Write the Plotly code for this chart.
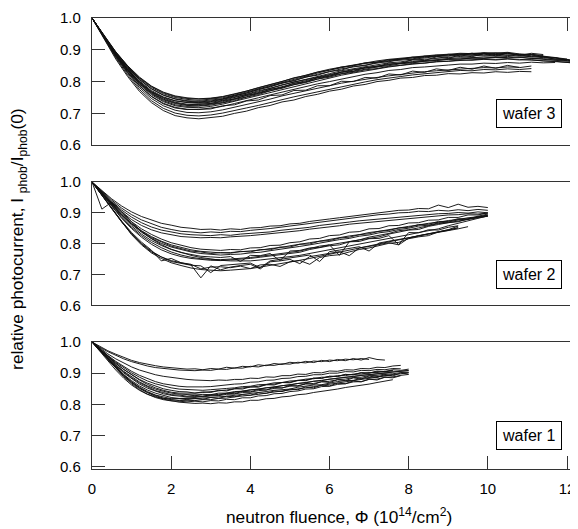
import plotly.graph_objects as go

# ---------------- x grids (fluence, 1e14 /cm^2) ----------------
X_W3 = [0.0, 0.3, 0.6, 0.9, 1.2, 1.5, 1.8, 2.1, 2.4, 2.7, 3.0, 3.3, 3.6, 3.9, 4.2, 4.5,
        4.8, 5.1, 5.4, 5.7, 6.0, 6.3, 6.6, 6.9, 7.2, 7.5, 7.8, 8.1, 8.4, 8.7, 9.0, 9.3,
        9.6, 9.9, 10.2, 10.5, 10.8, 11.1, 11.4, 11.7, 12.0, 12.3, 12.5]
X_W2 = [0.0, 0.25, 0.5, 0.75, 1.0, 1.25, 1.5, 1.75, 2.0, 2.25, 2.5, 2.75, 3.0, 3.25, 3.5,
        3.75, 4.0, 4.25, 4.5, 4.75, 5.0, 5.25, 5.5, 5.75, 6.0, 6.25, 6.5, 6.75, 7.0, 7.25,
        7.5, 7.75, 8.0, 8.25, 8.5, 8.75, 9.0, 9.25, 9.5, 9.75, 10.0]
X_W1 = [0.0, 0.2, 0.4, 0.6, 0.8, 1.0, 1.2, 1.4, 1.6, 1.8, 2.0, 2.2, 2.4, 2.6, 2.8, 3.0,
        3.2, 3.4, 3.6, 3.8, 4.0, 4.2, 4.4, 4.6, 4.8, 5.0, 5.2, 5.4, 5.6, 5.8, 6.0, 6.2,
        6.4, 6.6, 6.8, 7.0, 7.2, 7.4, 7.6, 7.8, 8.0]

# ---------------- wafer 3 (top panel) ----------------
W3_C01 = [1.000, 0.934, 0.871, 0.816, 0.769, 0.734, 0.709, 0.693, 0.686, 0.683, 0.687, 0.691, 0.700, 0.707, 0.718, 0.725,
          0.736, 0.742, 0.753, 0.760, 0.770, 0.776, 0.786, 0.791, 0.800, 0.804, 0.811, 0.813, 0.819, 0.820, 0.825, 0.824,
          0.828, 0.827, 0.831, 0.829, 0.832, 0.831]
W3_C02 = [1.000, 0.936, 0.875, 0.821, 0.775, 0.740, 0.716, 0.701, 0.694, 0.692, 0.695, 0.701, 0.708, 0.717, 0.725, 0.735,
          0.743, 0.752, 0.760, 0.769, 0.776, 0.785, 0.792, 0.799, 0.806, 0.810, 0.816, 0.821, 0.824, 0.829, 0.831, 0.835,
          0.834, 0.838, 0.837, 0.840, 0.838, 0.841]
W3_C03 = [1.000, 0.938, 0.878, 0.826, 0.781, 0.747, 0.724, 0.710, 0.703, 0.702, 0.705, 0.711, 0.719, 0.727, 0.737, 0.745,
          0.755, 0.763, 0.771, 0.780, 0.787, 0.795, 0.801, 0.808, 0.813, 0.818, 0.823, 0.827, 0.831, 0.834, 0.837, 0.840,
          0.841, 0.844, 0.843, 0.846, 0.845]
W3_C04 = [1.000, 0.939, 0.881, 0.830, 0.787, 0.754, 0.732, 0.719, 0.713, 0.712, 0.716, 0.722, 0.731, 0.739, 0.749, 0.758,
          0.767, 0.775, 0.784, 0.793, 0.800, 0.808, 0.815, 0.823, 0.828, 0.835, 0.838, 0.844, 0.846, 0.850, 0.852, 0.855,
          0.855, 0.858, 0.857, 0.860, 0.858, 0.861, 0.859, 0.860]
W3_C05 = [1.000, 0.940, 0.883, 0.833, 0.791, 0.759, 0.737, 0.724, 0.719, 0.718, 0.722, 0.729, 0.738, 0.747, 0.757, 0.766,
          0.776, 0.785, 0.794, 0.803, 0.812, 0.820, 0.827, 0.834, 0.840, 0.846, 0.851, 0.855, 0.858, 0.862, 0.864, 0.867,
          0.868, 0.871, 0.870, 0.872, 0.870, 0.868, 0.866, 0.863, 0.861, 0.858, 0.855]
W3_C06 = [1.000, 0.941, 0.885, 0.836, 0.795, 0.764, 0.743, 0.731, 0.725, 0.724, 0.728, 0.734, 0.744, 0.752, 0.763, 0.771,
          0.782, 0.790, 0.800, 0.808, 0.818, 0.825, 0.833, 0.839, 0.846, 0.850, 0.856, 0.859, 0.864, 0.866, 0.870, 0.871,
          0.874, 0.874, 0.877, 0.875, 0.877, 0.873, 0.872, 0.868, 0.866]
W3_C07 = [1.000, 0.942, 0.887, 0.839, 0.799, 0.768, 0.748, 0.735, 0.729, 0.728, 0.731, 0.737, 0.746, 0.755, 0.765, 0.775,
          0.784, 0.794, 0.803, 0.812, 0.821, 0.829, 0.836, 0.843, 0.849, 0.854, 0.859, 0.863, 0.866, 0.870, 0.872, 0.875,
          0.875, 0.878, 0.877, 0.879, 0.876, 0.875, 0.871, 0.869, 0.864, 0.861, 0.857]
W3_C08 = [1.000, 0.942, 0.888, 0.841, 0.802, 0.772, 0.752, 0.740, 0.734, 0.732, 0.735, 0.741, 0.749, 0.759, 0.768, 0.779,
          0.788, 0.799, 0.807, 0.817, 0.825, 0.834, 0.840, 0.848, 0.853, 0.859, 0.862, 0.868, 0.870, 0.874, 0.876, 0.879,
          0.880, 0.883, 0.881, 0.884, 0.880, 0.879, 0.875, 0.872, 0.868, 0.862]
W3_C09 = [1.000, 0.943, 0.890, 0.844, 0.806, 0.777, 0.757, 0.745, 0.738, 0.736, 0.739, 0.745, 0.754, 0.764, 0.774, 0.785,
          0.795, 0.805, 0.814, 0.823, 0.831, 0.840, 0.846, 0.853, 0.858, 0.864, 0.867, 0.872, 0.874, 0.879, 0.880, 0.884,
          0.884, 0.888, 0.885, 0.889, 0.884, 0.886, 0.882]
W3_C10 = [1.000, 0.944, 0.892, 0.847, 0.810, 0.782, 0.762, 0.750, 0.744, 0.741, 0.744, 0.749, 0.757, 0.767, 0.777, 0.788,
          0.798, 0.809, 0.818, 0.827, 0.836, 0.844, 0.851, 0.857, 0.862, 0.867, 0.872, 0.875, 0.879, 0.881, 0.885, 0.886,
          0.889, 0.888, 0.890, 0.887, 0.886, 0.881, 0.879, 0.874, 0.869, 0.864, 0.858]
W3_C11 = [1.000, 0.945, 0.894, 0.850, 0.814, 0.786, 0.767, 0.755, 0.749, 0.746, 0.748, 0.753, 0.761, 0.770, 0.781, 0.791,
          0.802, 0.811, 0.821, 0.830, 0.839, 0.846, 0.853, 0.860, 0.865, 0.870, 0.874, 0.878, 0.881, 0.884, 0.886, 0.889,
          0.888, 0.891, 0.890, 0.892, 0.887, 0.885, 0.880, 0.876, 0.871]
W3_C12 = [1.000, 0.941, 0.886, 0.838, 0.799, 0.769, 0.750, 0.739, 0.735, 0.734, 0.737, 0.744, 0.752, 0.760, 0.771, 0.779,
          0.790, 0.798, 0.808, 0.815, 0.824, 0.831, 0.838, 0.843, 0.849, 0.853, 0.858, 0.861, 0.865, 0.866, 0.870, 0.871,
          0.874, 0.873, 0.876, 0.875]
W3_C13 = [1.000, 0.940, 0.884, 0.835, 0.793, 0.762, 0.740, 0.727, 0.722, 0.723, 0.726, 0.733, 0.740, 0.751, 0.759, 0.771,
          0.779, 0.790, 0.797, 0.808, 0.814, 0.824, 0.829, 0.837, 0.841, 0.848, 0.851, 0.857, 0.858, 0.863, 0.864, 0.868,
          0.867, 0.870, 0.868, 0.871, 0.868, 0.869, 0.865, 0.864, 0.860, 0.858, 0.854]
W3_C14 = [1.000, 0.941, 0.886, 0.837, 0.797, 0.766, 0.745, 0.733, 0.727, 0.729, 0.731, 0.740, 0.745, 0.757, 0.762, 0.776,
          0.781, 0.795, 0.799, 0.813, 0.816, 0.830, 0.832, 0.845, 0.846, 0.858, 0.857, 0.869, 0.866, 0.878, 0.873, 0.884,
          0.878, 0.889, 0.881, 0.891, 0.882, 0.889, 0.885]
W3_C15 = [1.000, 0.943, 0.890, 0.845, 0.807, 0.778, 0.758, 0.746, 0.740, 0.738, 0.742, 0.746, 0.756, 0.763, 0.776, 0.783,
          0.796, 0.802, 0.815, 0.820, 0.832, 0.836, 0.848, 0.850, 0.861, 0.862, 0.872, 0.871, 0.880, 0.878, 0.886, 0.883,
          0.889, 0.884, 0.889, 0.882, 0.885, 0.877, 0.879, 0.870, 0.870, 0.861, 0.859]
W3_C16 = [1.000, 0.938, 0.880, 0.829, 0.786, 0.753, 0.730, 0.717, 0.712, 0.713, 0.714, 0.724, 0.727, 0.739, 0.742, 0.756,
          0.758, 0.772, 0.773, 0.787, 0.787, 0.801, 0.800, 0.813, 0.811, 0.824, 0.821, 0.833, 0.829, 0.840, 0.835, 0.845,
          0.839, 0.849, 0.842, 0.851, 0.844, 0.849]
W3_C17 = [1.000, 0.944, 0.893, 0.849, 0.812, 0.785, 0.765, 0.753, 0.747, 0.745, 0.747, 0.752, 0.760, 0.770, 0.779, 0.791,
          0.800, 0.812, 0.819, 0.830, 0.836, 0.846, 0.850, 0.859, 0.861, 0.869, 0.870, 0.877, 0.876, 0.883, 0.881, 0.887,
          0.884, 0.890, 0.885, 0.889, 0.883, 0.884, 0.876, 0.876, 0.867, 0.864, 0.856]

# ---------------- wafer 2 (middle panel) ----------------
W2_C01 = [1.000, 0.972, 0.945, 0.922, 0.903, 0.888, 0.876, 0.866, 0.860, 0.853, 0.850, 0.846, 0.847, 0.844, 0.848, 0.846,
          0.851, 0.852, 0.857, 0.858, 0.864, 0.866, 0.872, 0.875, 0.880, 0.884, 0.888, 0.893, 0.896, 0.901, 0.903, 0.908,
          0.909, 0.914, 0.913, 0.925, 0.917, 0.928, 0.918, 0.921, 0.917]
W2_C02 = [1.000, 0.970, 0.941, 0.915, 0.894, 0.877, 0.864, 0.853, 0.846, 0.840, 0.838, 0.835, 0.838, 0.836, 0.840, 0.839,
          0.843, 0.845, 0.849, 0.853, 0.857, 0.861, 0.866, 0.870, 0.874, 0.879, 0.882, 0.887, 0.889, 0.894, 0.896, 0.900,
          0.901, 0.905, 0.904, 0.908, 0.906, 0.910, 0.907, 0.911, 0.908]
W2_C03 = [1.000, 0.968, 0.937, 0.909, 0.886, 0.868, 0.854, 0.844, 0.837, 0.832, 0.829, 0.827, 0.826, 0.829, 0.827, 0.831,
          0.833, 0.836, 0.838, 0.843, 0.846, 0.851, 0.853, 0.859, 0.862, 0.866, 0.870, 0.874, 0.877, 0.881, 0.884, 0.887,
          0.889, 0.893, 0.894, 0.897, 0.898, 0.901, 0.899, 0.903, 0.900]
W2_C04 = [1.000, 0.966, 0.933, 0.903, 0.878, 0.859, 0.845, 0.835, 0.828, 0.823, 0.821, 0.819, 0.820, 0.819, 0.822, 0.823,
          0.826, 0.829, 0.832, 0.835, 0.839, 0.842, 0.847, 0.850, 0.855, 0.858, 0.863, 0.866, 0.870, 0.873, 0.877, 0.879,
          0.883, 0.885, 0.888, 0.890, 0.893, 0.894, 0.897, 0.896, 0.899]
W2_C05 = [1.000, 0.966, 0.932, 0.899, 0.871, 0.848, 0.830, 0.815, 0.803, 0.794, 0.787, 0.782, 0.780, 0.778, 0.781, 0.780,
          0.786, 0.787, 0.794, 0.795, 0.803, 0.806, 0.815, 0.817, 0.826, 0.828, 0.837, 0.839, 0.848, 0.849, 0.858, 0.859,
          0.867, 0.868, 0.876, 0.877, 0.885, 0.885, 0.893, 0.893, 0.900]
W2_C06 = [1.000, 0.965, 0.929, 0.895, 0.866, 0.842, 0.823, 0.808, 0.796, 0.787, 0.780, 0.775, 0.772, 0.770, 0.771, 0.773,
          0.776, 0.779, 0.784, 0.787, 0.793, 0.797, 0.803, 0.808, 0.814, 0.819, 0.825, 0.829, 0.836, 0.840, 0.846, 0.850,
          0.856, 0.860, 0.866, 0.869, 0.875, 0.878, 0.884, 0.887, 0.893]
W2_C07 = [1.000, 0.964, 0.927, 0.892, 0.862, 0.837, 0.817, 0.801, 0.789, 0.780, 0.773, 0.768, 0.765, 0.763, 0.765, 0.766,
          0.770, 0.772, 0.777, 0.781, 0.786, 0.791, 0.796, 0.802, 0.806, 0.813, 0.817, 0.824, 0.828, 0.835, 0.839, 0.846,
          0.850, 0.857, 0.860, 0.867, 0.870, 0.877, 0.880, 0.886, 0.889]
W2_C08 = [1.000, 0.963, 0.925, 0.889, 0.857, 0.831, 0.810, 0.794, 0.781, 0.771, 0.765, 0.759, 0.757, 0.755, 0.758, 0.742,
          0.762, 0.761, 0.768, 0.745, 0.776, 0.778, 0.786, 0.788, 0.796, 0.762, 0.806, 0.807, 0.816, 0.817, 0.826, 0.797,
          0.836, 0.835, 0.845, 0.844, 0.853, 0.858]
W2_C09 = [1.000, 0.962, 0.922, 0.885, 0.852, 0.826, 0.804, 0.787, 0.773, 0.763, 0.756, 0.751, 0.749, 0.748, 0.750, 0.752,
          0.755, 0.759, 0.763, 0.768, 0.773, 0.776, 0.784, 0.792, 0.796, 0.802, 0.808, 0.812, 0.821, 0.827, 0.833, 0.842,
          0.845, 0.851, 0.857, 0.865, 0.868, 0.873, 0.879, 0.884, 0.889]
W2_C10 = [1.000, 0.958, 0.915, 0.873, 0.836, 0.805, 0.779, 0.744, 0.752, 0.738, 0.733, 0.718, 0.724, 0.725, 0.722, 0.727,
          0.719, 0.731, 0.733, 0.726, 0.741, 0.745, 0.733, 0.755, 0.761, 0.764, 0.773, 0.781, 0.786, 0.793, 0.801, 0.804,
          0.816, 0.822, 0.826, 0.838, 0.843, 0.852]
W2_C11 = [1.000, 0.957, 0.912, 0.868, 0.829, 0.796, 0.770, 0.752, 0.738, 0.729, 0.721, 0.716, 0.713, 0.712, 0.714, 0.716,
          0.719, 0.724, 0.729, 0.734, 0.740, 0.746, 0.752, 0.759, 0.766, 0.772, 0.779, 0.786, 0.792, 0.799, 0.806, 0.812,
          0.819, 0.825, 0.832, 0.838, 0.845, 0.851]
W2_C12 = [1.000, 0.955, 0.913, 0.870, 0.831, 0.799, 0.773, 0.757, 0.745, 0.738, 0.731, 0.689, 0.728, 0.715, 0.724, 0.729,
          0.733, 0.718, 0.741, 0.744, 0.749, 0.735, 0.758, 0.763, 0.768, 0.774, 0.761, 0.786, 0.791, 0.797, 0.803, 0.796,
          0.818, 0.826, 0.831, 0.838, 0.845, 0.857]
W2_C13 = [1.000, 0.912, 0.935, 0.905, 0.870, 0.840, 0.816, 0.797, 0.782, 0.771, 0.762, 0.755, 0.750, 0.746, 0.744, 0.743,
          0.744, 0.747, 0.750, 0.753, 0.758, 0.762, 0.768, 0.773, 0.779, 0.786, 0.791, 0.798, 0.803, 0.811, 0.816, 0.823,
          0.829, 0.836, 0.841, 0.848, 0.858, 0.867, 0.874, 0.882, 0.890]
W2_C14 = [1.000, 0.964, 0.928, 0.894, 0.864, 0.840, 0.820, 0.806, 0.792, 0.784, 0.776, 0.773, 0.768, 0.771, 0.769, 0.775,
          0.773, 0.781, 0.780, 0.789, 0.789, 0.798, 0.799, 0.808, 0.810, 0.818, 0.821, 0.829, 0.832, 0.840, 0.843, 0.851,
          0.853, 0.862, 0.863, 0.872, 0.872, 0.881, 0.880, 0.889, 0.896]
W2_C15 = [1.000, 0.957, 0.914, 0.871, 0.833, 0.801, 0.776, 0.757, 0.742, 0.736, 0.730, 0.728, 0.706, 0.729, 0.731, 0.733,
          0.737, 0.722, 0.744, 0.749, 0.753, 0.758, 0.763, 0.742, 0.774, 0.779, 0.785, 0.790, 0.776, 0.802, 0.808, 0.813,
          0.819, 0.825, 0.831, 0.836, 0.842, 0.848, 0.855]
W2_C16 = [1.000, 0.961, 0.921, 0.882, 0.849, 0.821, 0.798, 0.780, 0.767, 0.758, 0.752, 0.748, 0.746, 0.745, 0.747, 0.749,
          0.752, 0.756, 0.760, 0.765, 0.770, 0.772, 0.781, 0.787, 0.793, 0.796, 0.806, 0.812, 0.818, 0.822, 0.831, 0.837,
          0.844, 0.846, 0.856, 0.862, 0.868, 0.871, 0.880, 0.886, 0.892]

# ---------------- wafer 1 (bottom panel) ----------------
W1_C01 = [1.000, 0.985, 0.972, 0.961, 0.950, 0.941, 0.934, 0.928, 0.924, 0.920, 0.918, 0.915, 0.913, 0.914, 0.911, 0.915,
          0.913, 0.919, 0.916, 0.922, 0.920, 0.927, 0.924, 0.931, 0.928, 0.935, 0.932, 0.938, 0.934, 0.941, 0.937, 0.944,
          0.940, 0.947, 0.942, 0.950, 0.944, 0.942]
W1_C02 = [1.000, 0.983, 0.969, 0.957, 0.946, 0.937, 0.929, 0.923, 0.918, 0.915, 0.912, 0.910, 0.909, 0.908, 0.910, 0.909,
          0.913, 0.912, 0.917, 0.916, 0.922, 0.920, 0.926, 0.925, 0.930, 0.929, 0.935, 0.933, 0.939, 0.937, 0.942, 0.940,
          0.945, 0.943, 0.947, 0.944]
W1_C03 = [1.000, 0.980, 0.962, 0.946, 0.932, 0.920, 0.910, 0.902, 0.895, 0.890, 0.886, 0.882, 0.880, 0.878, 0.877, 0.876,
          0.878, 0.877, 0.880, 0.880, 0.884, 0.883, 0.888, 0.887, 0.892, 0.892, 0.897, 0.896, 0.902, 0.901, 0.907, 0.906,
          0.911, 0.910, 0.915, 0.914, 0.919, 0.918, 0.923, 0.925]
W1_C04 = [1.000, 0.978, 0.957, 0.938, 0.921, 0.906, 0.893, 0.882, 0.873, 0.866, 0.861, 0.858, 0.856, 0.855, 0.856, 0.857,
          0.860, 0.861, 0.865, 0.866, 0.871, 0.872, 0.877, 0.878, 0.883, 0.884, 0.889, 0.890, 0.895, 0.895, 0.900, 0.900,
          0.905, 0.904, 0.909, 0.908, 0.912, 0.911, 0.915, 0.914]
W1_C05 = [1.000, 0.976, 0.953, 0.931, 0.912, 0.895, 0.880, 0.868, 0.858, 0.850, 0.845, 0.841, 0.840, 0.836, 0.840, 0.838,
          0.845, 0.843, 0.850, 0.849, 0.856, 0.855, 0.863, 0.862, 0.870, 0.869, 0.877, 0.876, 0.884, 0.883, 0.890, 0.889,
          0.896, 0.895, 0.902, 0.900, 0.907, 0.905, 0.911, 0.909, 0.913]
W1_C06 = [1.000, 0.975, 0.950, 0.927, 0.906, 0.888, 0.872, 0.859, 0.849, 0.842, 0.836, 0.833, 0.831, 0.830, 0.832, 0.831,
          0.836, 0.836, 0.841, 0.842, 0.847, 0.848, 0.853, 0.855, 0.860, 0.862, 0.867, 0.869, 0.874, 0.876, 0.881, 0.883,
          0.887, 0.889, 0.893, 0.895, 0.899, 0.900, 0.904, 0.905, 0.908]
W1_C07 = [1.000, 0.974, 0.948, 0.923, 0.901, 0.882, 0.865, 0.852, 0.842, 0.834, 0.829, 0.826, 0.824, 0.825, 0.824, 0.827,
          0.828, 0.832, 0.833, 0.838, 0.839, 0.844, 0.846, 0.851, 0.853, 0.858, 0.860, 0.865, 0.867, 0.872, 0.874, 0.879,
          0.881, 0.886, 0.887, 0.892, 0.893, 0.897, 0.898, 0.902, 0.903]
W1_C08 = [1.000, 0.973, 0.945, 0.919, 0.896, 0.876, 0.859, 0.846, 0.836, 0.828, 0.822, 0.819, 0.818, 0.818, 0.820, 0.821,
          0.824, 0.826, 0.829, 0.832, 0.835, 0.836, 0.841, 0.845, 0.848, 0.849, 0.855, 0.859, 0.862, 0.863, 0.869, 0.873,
          0.876, 0.877, 0.883, 0.886, 0.889, 0.892, 0.895]
W1_C09 = [1.000, 0.972, 0.943, 0.915, 0.890, 0.869, 0.851, 0.838, 0.828, 0.820, 0.815, 0.812, 0.813, 0.812, 0.815, 0.815,
          0.819, 0.820, 0.824, 0.826, 0.830, 0.832, 0.836, 0.839, 0.843, 0.846, 0.850, 0.853, 0.857, 0.861, 0.865, 0.868,
          0.872, 0.876, 0.880, 0.883, 0.887, 0.891, 0.895, 0.898, 0.902]
W1_C10 = [1.000, 0.973, 0.946, 0.919, 0.894, 0.872, 0.853, 0.838, 0.826, 0.817, 0.811, 0.807, 0.805, 0.803, 0.804, 0.802,
          0.805, 0.804, 0.808, 0.808, 0.813, 0.813, 0.818, 0.819, 0.824, 0.826, 0.831, 0.833, 0.838, 0.841, 0.846, 0.849,
          0.854, 0.857, 0.862, 0.865, 0.870, 0.874, 0.879]
W1_C11 = [1.000, 0.970, 0.940, 0.910, 0.884, 0.862, 0.845, 0.832, 0.824, 0.819, 0.817, 0.818, 0.820, 0.822, 0.826, 0.828,
          0.832, 0.835, 0.839, 0.842, 0.846, 0.849, 0.853, 0.856, 0.860, 0.863, 0.867, 0.870, 0.874, 0.877, 0.881, 0.884,
          0.887, 0.890, 0.893, 0.896, 0.899, 0.901, 0.903, 0.906, 0.909]
W1_C12 = [1.000, 0.977, 0.955, 0.935, 0.917, 0.901, 0.887, 0.875, 0.866, 0.859, 0.853, 0.849, 0.847, 0.846, 0.845, 0.847,
          0.848, 0.851, 0.853, 0.857, 0.858, 0.863, 0.864, 0.869, 0.870, 0.875, 0.876, 0.881, 0.882, 0.887, 0.887, 0.892,
          0.892, 0.897, 0.897, 0.902, 0.902, 0.906, 0.907]
W1_C13 = [1.000, 0.975, 0.949, 0.925, 0.904, 0.885, 0.869, 0.856, 0.844, 0.838, 0.831, 0.830, 0.826, 0.829, 0.826, 0.831,
          0.829, 0.836, 0.834, 0.842, 0.840, 0.848, 0.846, 0.855, 0.852, 0.861, 0.858, 0.867, 0.864, 0.873, 0.870, 0.879,
          0.876, 0.885, 0.881, 0.891, 0.886, 0.896, 0.891, 0.901, 0.897]
W1_C14 = [1.000, 0.972, 0.944, 0.917, 0.893, 0.872, 0.855, 0.841, 0.830, 0.823, 0.818, 0.818, 0.815, 0.819, 0.816, 0.822,
          0.819, 0.826, 0.824, 0.831, 0.829, 0.837, 0.835, 0.843, 0.841, 0.849, 0.847, 0.856, 0.853, 0.862, 0.859, 0.868,
          0.866, 0.875, 0.872, 0.881, 0.878, 0.887, 0.885, 0.892]
W1_C15 = [1.000, 0.977, 0.954, 0.932, 0.912, 0.894, 0.878, 0.864, 0.853, 0.845, 0.839, 0.836, 0.835, 0.836, 0.838, 0.840,
          0.843, 0.846, 0.850, 0.852, 0.856, 0.858, 0.863, 0.865, 0.870, 0.871, 0.877, 0.878, 0.884, 0.884, 0.890, 0.890,
          0.896, 0.895, 0.901, 0.900, 0.905, 0.904, 0.909]
W1_C16 = [1.000, 0.972, 0.943, 0.915, 0.889, 0.866, 0.847, 0.833, 0.822, 0.815, 0.811, 0.810, 0.808, 0.810, 0.808, 0.812,
          0.811, 0.816, 0.815, 0.821, 0.821, 0.827, 0.828, 0.834, 0.835, 0.841, 0.843, 0.849, 0.850, 0.857, 0.858, 0.864,
          0.866, 0.872, 0.873, 0.880, 0.881, 0.887, 0.888, 0.893, 0.896]

W3_CURVES = [W3_C01, W3_C02, W3_C03, W3_C04, W3_C05, W3_C06, W3_C07, W3_C08, W3_C09, W3_C10, W3_C11, W3_C12,
             W3_C13, W3_C14, W3_C15, W3_C16, W3_C17]
W2_CURVES = [W2_C01, W2_C02, W2_C03, W2_C04, W2_C05, W2_C06, W2_C07, W2_C08, W2_C09, W2_C10, W2_C11, W2_C12,
             W2_C13, W2_C14, W2_C15, W2_C16]
W1_CURVES = [W1_C01, W1_C02, W1_C03, W1_C04, W1_C05, W1_C06, W1_C07, W1_C08, W1_C09, W1_C10, W1_C11, W1_C12,
             W1_C13, W1_C14, W1_C15, W1_C16]

X_TICKS = [0, 2, 4, 6, 8, 10, 12]
Y_TICKS = [0.6, 0.7, 0.8, 0.9, 1.0]
Y_TICK_TEXT = ["0.6", "0.7", "0.8", "0.9", "1.0"]
PANEL_LABELS = ["wafer 1", "wafer 2", "wafer 3"]

FONT = "Arial, 'Liberation Sans', Helvetica, sans-serif"
LINE_COLOR = "#111111"
AX_COLOR = "#333333"

fig = go.Figure()


def add_panel(xs, curves, xa, ya):
    for ys in curves:
        fig.add_trace(go.Scatter(x=xs[:len(ys)], y=ys, mode="lines",
                                 line=dict(color=LINE_COLOR, width=0.95),
                                 xaxis=xa, yaxis=ya, showlegend=False, hoverinfo="skip"))


add_panel(X_W1, W1_CURVES, "x", "y")
add_panel(X_W2, W2_CURVES, "x2", "y2")
add_panel(X_W3, W3_CURVES, "x3", "y3")

common = dict(showline=True, linecolor=AX_COLOR, linewidth=1.2, showgrid=False, zeroline=False,
              tickcolor=AX_COLOR, tickwidth=1.2, ticklen=13,
              tickfont=dict(family=FONT, size=15, color="black"))

XR = [0, 12.48]
xaxis = dict(common, range=XR, anchor="y", domain=[0, 1], tickvals=X_TICKS, ticks="inside",
             mirror=True, ticklabelstandoff=6)
xaxis2 = dict(common, range=XR, anchor="y2", domain=[0, 1], tickvals=X_TICKS, ticks="",
              showticklabels=False, mirror=True)
xaxis3 = dict(common, range=XR, anchor="y3", domain=[0, 1], tickvals=X_TICKS, ticks="inside",
              side="top", showticklabels=False, mirror=True)

ycommon = dict(common, tickvals=Y_TICKS, ticktext=Y_TICK_TEXT, ticks="inside", mirror="ticks",
               ticklabelstandoff=7)
yaxis = dict(ycommon, anchor="x", domain=[0, 0.2816], range=[0.5926, 1.0])
yaxis2 = dict(ycommon, anchor="x2", domain=[0.363, 0.6364], range=[0.6, 1.0])
yaxis3 = dict(ycommon, anchor="x3", domain=[0.718, 1.0], range=[0.6, 1.0])

annotations = []
for lbl, xr, yr in zip(PANEL_LABELS, ["x", "x2", "x3"], ["y", "y2", "y3"]):
    annotations.append(dict(text=lbl, x=11.04, y=0.70, xref=xr, yref=yr, showarrow=False,
                            bordercolor="black", borderwidth=1, borderpad=5, bgcolor="white",
                            font=dict(family=FONT, size=16, color="black")))

annotations.append(dict(text="neutron fluence, \u03a6 (10<sup>14</sup>/cm<sup>2</sup>)",
                        x=0.5, y=-0.104, xref="paper", yref="paper", showarrow=False,
                        xanchor="center", yanchor="middle",
                        font=dict(family=FONT, size=17.3, color="black")))
annotations.append(dict(text="relative photocurrent, I <sub>phob</sub>/I<sub>phob</sub>(0)",
                        x=-0.148, y=0.51, xref="paper", yref="paper", showarrow=False,
                        textangle=-90, xanchor="center", yanchor="middle",
                        font=dict(family=FONT, size=17.3, color="black")))

fig.update_layout(width=578, height=529, autosize=False,
                  margin=dict(l=84, r=0, t=10, b=68),
                  paper_bgcolor="white", plot_bgcolor="white",
                  xaxis=xaxis, xaxis2=xaxis2, xaxis3=xaxis3,
                  yaxis=yaxis, yaxis2=yaxis2, yaxis3=yaxis3,
                  annotations=annotations, showlegend=False,
                  font=dict(family=FONT, color="black"))

fig.write_html("out.html")
